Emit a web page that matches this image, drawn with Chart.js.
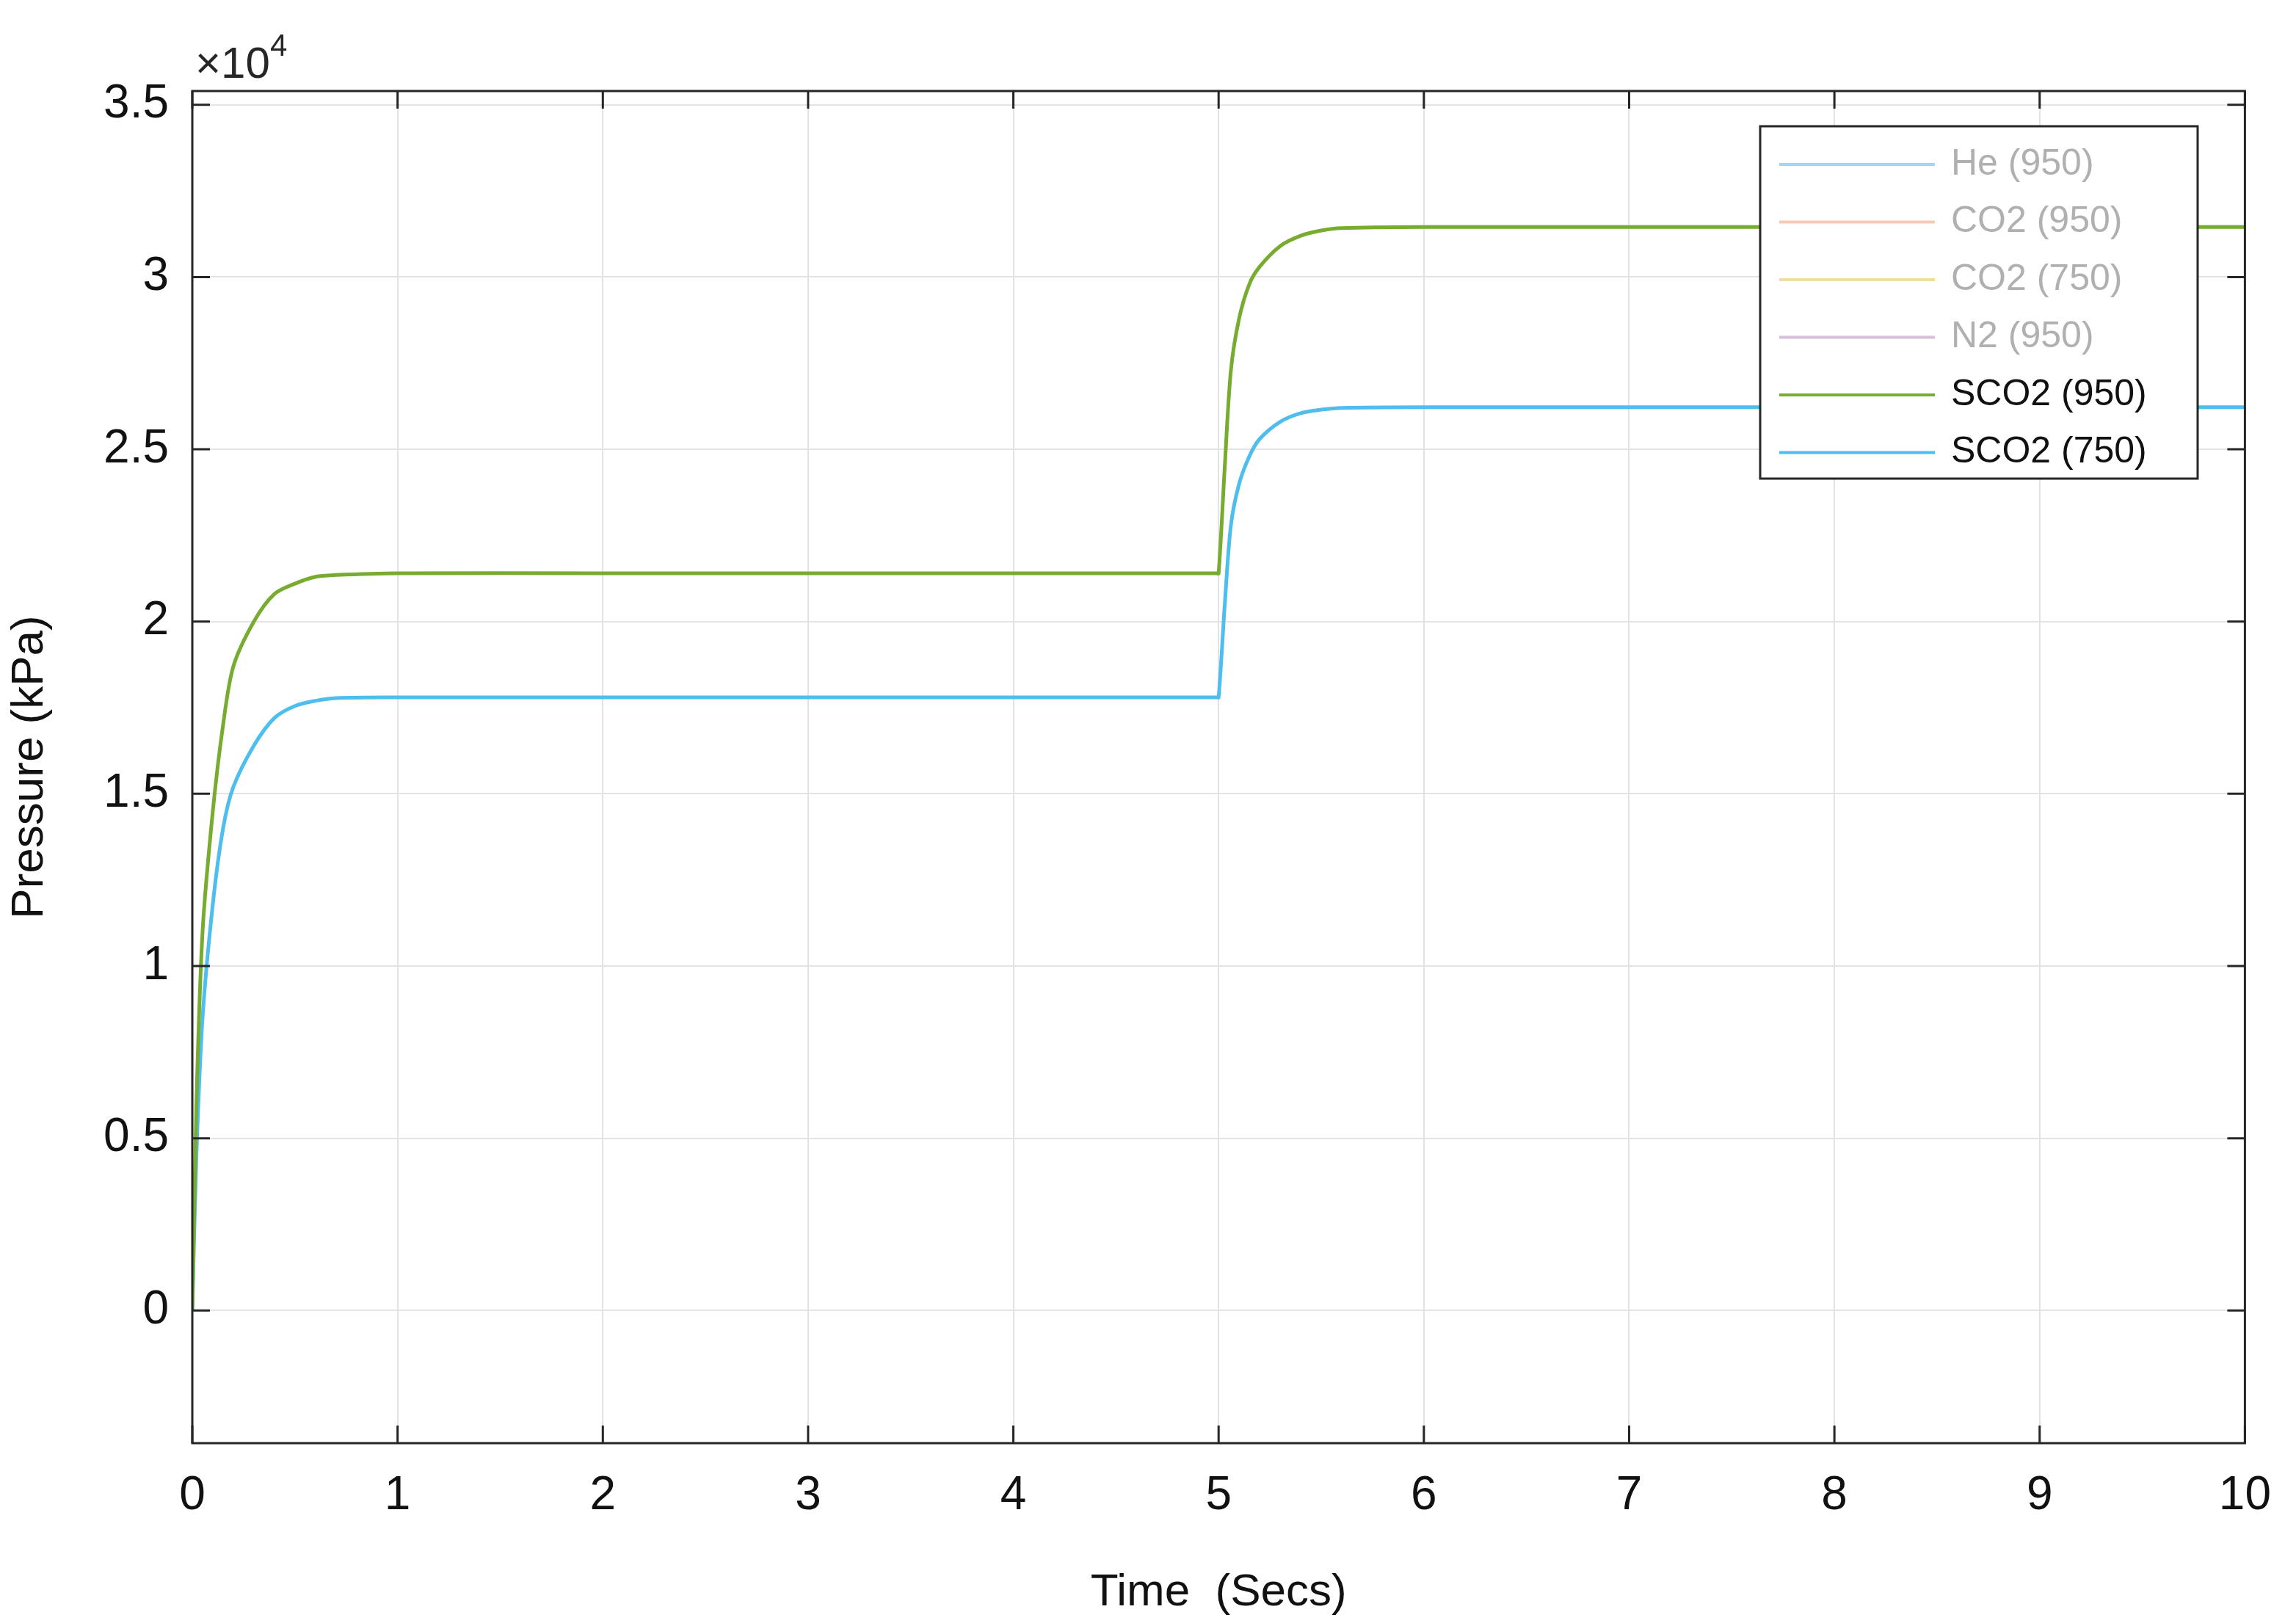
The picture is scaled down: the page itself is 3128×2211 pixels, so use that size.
<!DOCTYPE html>
<html>
<head>
<meta charset="utf-8">
<script src="https://cdn.jsdelivr.net/npm/chart.js@4/dist/chart.umd.min.js"></script>
<style>
  body { margin: 0; background: #fff; }
</style>
</head>
<body>
<canvas id="chart" width="3128" height="2211"></canvas>
<script>
// time points (s) and pressure values (kPa)
const timeSecs = [0, 0.02, 0.05, 0.1, 0.15, 0.2, 0.3, 0.4, 0.5, 0.6, 0.7, 1, 2, 3, 4, 4.99,
  5.0, 5.03, 5.06, 5.1, 5.15, 5.2, 5.3, 5.4, 5.5, 5.6, 6, 7, 8, 9, 10];
const sco2_950 = [0, 6000, 11000, 14500, 17000, 18700, 20000, 20800, 21100, 21300, 21350, 21400, 21400, 21400, 21400, 21400,
  21400, 24500, 27300, 28800, 29800, 30300, 30900, 31200, 31350, 31420, 31450, 31450, 31450, 31450, 31450];
const sco2_750 = [0, 4500, 8500, 11800, 14000, 15200, 16400, 17200, 17550, 17700, 17780, 17800, 17800, 17800, 17800, 17800,
  17800, 20500, 22800, 24000, 24800, 25300, 25800, 26050, 26150, 26200, 26220, 26220, 26220, 26220, 26220];

const legendNames = ['He (950)', 'CO2 (950)', 'CO2 (750)', 'N2 (950)', 'SCO2 (950)', 'SCO2 (750)'];
const legendColors = ['#a9d3ec', '#f3c9b8', '#f3dca4', '#d9bfdc', '#77ac30', '#4dbeee'];
const legendFaded = [true, true, true, true, false, false];

const yTicks = [0, 5000, 10000, 15000, 20000, 25000, 30000, 35000];
const FONT = 'Liberation Sans, Arial, sans-serif';

function pts(ys) { return timeSecs.map((t, i) => ({ x: t, y: ys[i] })); }

const overlay = {
  id: 'overlay',
  afterDraw(c) {
    const ctx = c.ctx, a = c.chartArea;
    ctx.save();
    // inner tick marks
    ctx.strokeStyle = '#262626';
    ctx.lineWidth = 3;
    const xs = c.scales.x, ys = c.scales.y;
    for (let t = 0; t <= 10; t++) {
      const px = xs.getPixelForValue(t);
      ctx.beginPath(); ctx.moveTo(px, a.bottom); ctx.lineTo(px, a.bottom - 24);
      ctx.moveTo(px, a.top); ctx.lineTo(px, a.top + 24); ctx.stroke();
    }
    yTicks.forEach(v => {
      const py = ys.getPixelForValue(v);
      ctx.beginPath(); ctx.moveTo(a.left, py); ctx.lineTo(a.left + 24, py);
      ctx.moveTo(a.right, py); ctx.lineTo(a.right - 24, py); ctx.stroke();
    });
    // plot box
    ctx.strokeRect(a.left, a.top, a.right - a.left, a.bottom - a.top);
    // exponent label
    ctx.fillStyle = '#262626';
    ctx.font = '60px ' + FONT;
    ctx.textBaseline = 'alphabetic';
    ctx.fillText('\u00d710', a.left + 4, 106);
    ctx.font = '42px ' + FONT;
    ctx.fillText('4', a.left + 106, 76);
    // legend box
    const bx = 2398, by = 172, bw = 596, bh = 480;
    ctx.fillStyle = '#fff';
    ctx.fillRect(bx, by, bw, bh);
    ctx.strokeStyle = '#262626';
    ctx.lineWidth = 3;
    ctx.strokeRect(bx, by, bw, bh);
    ctx.font = '50px ' + FONT;
    ctx.textBaseline = 'middle';
    legendNames.forEach((n, i) => {
      const y = 224 + i * 78.5;
      ctx.strokeStyle = legendColors[i];
      ctx.lineWidth = 4;
      ctx.beginPath(); ctx.moveTo(2424, y); ctx.lineTo(2636, y); ctx.stroke();
      ctx.fillStyle = legendFaded[i] ? '#b0b0b0' : '#111';
      ctx.fillText(n, 2658, y);
    });
    ctx.restore();
  }
};

new Chart(document.getElementById('chart'), {
  type: 'scatter',
  data: {
    datasets: [
      { label: 'SCO2 (950)', data: pts(sco2_950), showLine: true, borderColor: '#77ac30', borderWidth: 5, pointRadius: 0, tension: 0.3 },
      { label: 'SCO2 (750)', data: pts(sco2_750), showLine: true, borderColor: '#4dbeee', borderWidth: 5, pointRadius: 0, tension: 0.3 }
    ]
  },
  options: {
    responsive: false,
    animation: false,
    layout: { padding: { top: 124, right: 66, left: 0, bottom: 0 } },
    plugins: { legend: { display: false }, tooltip: { enabled: false } },
    scales: {
      x: {
        type: 'linear', min: 0, max: 10,
        ticks: { stepSize: 1, color: '#111', font: { size: 64, family: FONT }, padding: 34 },
        grid: { color: '#e3e3e3', lineWidth: 2, tickLength: 0 },
        border: { display: false },
        title: { display: true, text: 'Time  (Secs)', color: '#111', font: { size: 62, family: FONT }, padding: { top: 0 } },
        afterFit(s) { s.height = 245; }
      },
      y: {
        type: 'linear', min: -3850, max: 35400,
        afterBuildTicks(s) { s.ticks = yTicks.map(v => ({ value: v })); },
        ticks: { color: '#111', font: { size: 64, family: FONT }, padding: 32,
          callback: v => String(v / 10000) },
        grid: { color: '#e3e3e3', lineWidth: 2, tickLength: 0 },
        border: { display: false },
        title: { display: true, text: 'Pressure (kPa)', color: '#111', font: { size: 62, family: FONT }, padding: { bottom: 0 } },
        afterFit(s) { s.width = 262; }
      }
    }
  },
  plugins: [overlay]
});
</script>
</body>
</html>
